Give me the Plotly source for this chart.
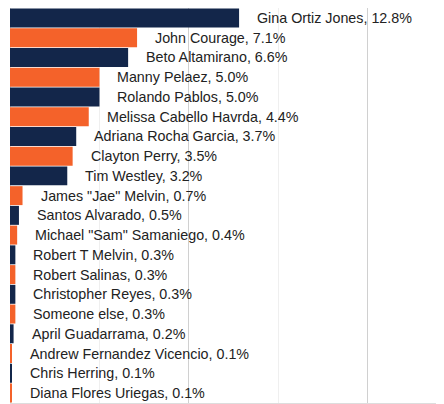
import plotly.graph_objects as go

names = ["Gina Ortiz Jones", "John Courage", "Beto Altamirano", "Manny Pelaez",
         "Rolando Pablos", "Melissa Cabello Havrda", "Adriana Rocha Garcia",
         "Clayton Perry", "Tim Westley", "James \"Jae\" Melvin", "Santos Alvarado",
         "Michael \"Sam\" Samaniego", "Robert T Melvin", "Robert Salinas",
         "Christopher Reyes", "Someone else", "April Guadarrama",
         "Andrew Fernandez Vicencio", "Chris Herring", "Diana Flores Uriegas"]
values = [12.8, 7.1, 6.6, 5.0, 5.0, 4.4, 3.7, 3.5, 3.2, 0.7, 0.5, 0.4, 0.3, 0.3,
          0.3, 0.3, 0.2, 0.1, 0.1, 0.1]

NAVY = "#13264a"
ORANGE = "#f4622a"
colors = [NAVY if i % 2 == 0 else ORANGE for i in range(len(names))]

fig = go.Figure(go.Bar(
    x=values, y=names, orientation="h",
    marker=dict(color=colors, line=dict(width=0)),
    hoverinfo="skip",
))

for n, v in zip(names, values):
    fig.add_annotation(x=v, y=n, text=f"{n}, {v:.1f}%", showarrow=False,
                       xanchor="left", yanchor="middle", xshift=16,
                       font=dict(family="Liberation Sans, Arial", size=14.3, color="#222222"))

fig.update_layout(
    width=436, height=396,
    margin=dict(l=2, r=0, t=0, b=1),
    paper_bgcolor="white", plot_bgcolor="white",
    bargap=0.04, showlegend=False,
    xaxis=dict(range=[0, 24.25], dtick=10, showgrid=True, gridcolor="#d0d0d0",
               gridwidth=1, showticklabels=False, ticks="",
               zeroline=True, zerolinecolor="#dddddd", zerolinewidth=1,
               showline=True, linecolor="#dddddd", linewidth=2,
               minor=dict(dtick=5, showgrid=True, gridcolor="#efefef", gridwidth=1)),
    yaxis=dict(autorange="reversed", showticklabels=False, ticks="", showgrid=False,
               showline=False),
)

fig.write_html("out.html")
